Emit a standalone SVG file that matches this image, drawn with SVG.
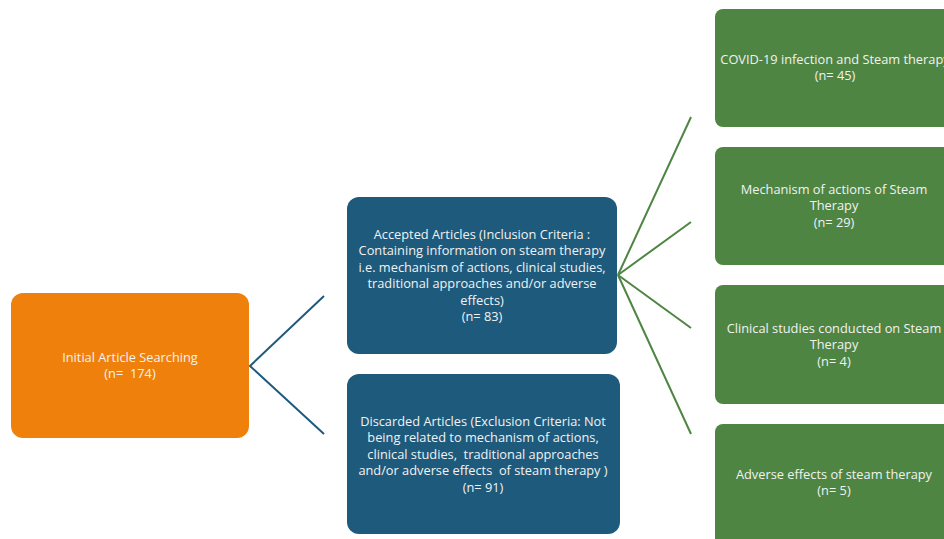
<svg xmlns="http://www.w3.org/2000/svg" width="944" height="539" viewBox="0 0 944 539">
<style>
.t{font-family:"Open Sans","Liberation Sans",sans-serif;font-size:12.8px;fill:#F2F2F2;text-anchor:middle}
.orange{fill:#EF800C}
.blue{fill:#1E5A7C}
.green{fill:#4E8543}
.cb{stroke:#1E5A7C;stroke-width:2;fill:none}
.cg{stroke:#4E8543;stroke-width:2;fill:none}
</style>
<rect width="944" height="539" fill="#FFFFFF"/>
<g id="connectors">
<polyline class="cb" points="324,296 250,366 324,434"/>
<line class="cg" x1="618" y1="275" x2="691" y2="117"/>
<line class="cg" x1="618" y1="275" x2="691" y2="222"/>
<line class="cg" x1="618" y1="275" x2="691" y2="328"/>
<line class="cg" x1="618" y1="275" x2="691" y2="434"/>
</g>
<g id="initial">
<rect class="orange" x="11" y="293" width="238" height="145" rx="12"/>
<text class="t" x="130" y="362">Initial Article Searching</text>
<text class="t" x="130" y="378" xml:space="preserve">(n=  174)</text>
</g>
<g id="accepted">
<rect class="blue" x="347" y="197" width="270" height="157" rx="12"/>
<text class="t" x="482" y="238.5">Accepted Articles (Inclusion Criteria :</text>
<text class="t" x="482" y="255">Containing information on steam therapy</text>
<text class="t" x="482" y="271.5">i.e. mechanism of actions, clinical studies,</text>
<text class="t" x="482" y="288">traditional approaches and/or adverse</text>
<text class="t" x="482" y="304.5">effects)</text>
<text class="t" x="482" y="320.5">(n= 83)</text>
</g>
<g id="discarded">
<rect class="blue" x="347" y="374" width="273" height="160" rx="12"/>
<text class="t" x="483" y="425.5">Discarded Articles (Exclusion Criteria: Not</text>
<text class="t" x="483" y="442">being related to mechanism of actions,</text>
<text class="t" x="483" y="458.5" xml:space="preserve">clinical studies,  traditional approaches</text>
<text class="t" x="483" y="475" xml:space="preserve">and/or adverse effects  of steam therapy )</text>
<text class="t" x="483" y="491.5">(n= 91)</text>
</g>
<g id="covid">
<rect class="green" x="715" y="9" width="240" height="118" rx="8"/>
<text class="t" x="835" y="63.5">COVID-19 infection and Steam therapy</text>
<text class="t" x="835" y="79.5">(n= 45)</text>
</g>
<g id="mechanism">
<rect class="green" x="715" y="147" width="240" height="118" rx="8"/>
<text class="t" x="834" y="193.5">Mechanism of actions of Steam</text>
<text class="t" x="834" y="210">Therapy</text>
<text class="t" x="834" y="226.5">(n= 29)</text>
</g>
<g id="clinical">
<rect class="green" x="715" y="285" width="240" height="119" rx="8"/>
<text class="t" x="834" y="332.5">Clinical studies conducted on Steam</text>
<text class="t" x="834" y="349">Therapy</text>
<text class="t" x="834" y="365.5">(n= 4)</text>
</g>
<g id="adverse">
<rect class="green" x="715" y="424" width="240" height="125" rx="8"/>
<text class="t" x="834" y="478.5">Adverse effects of steam therapy</text>
<text class="t" x="834" y="494.5">(n= 5)</text>
</g>
</svg>
